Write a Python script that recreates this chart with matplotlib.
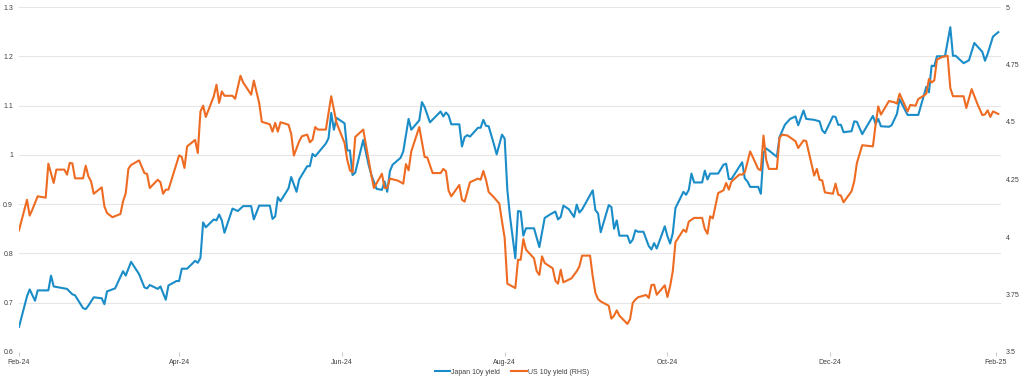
import matplotlib
matplotlib.use("Agg")
import matplotlib.pyplot as plt
import matplotlib.dates as mdates
import pandas as pd

plt.rcParams['font.family'] = ['Liberation Sans', 'DejaVu Sans']

# Japan 10y yield (left axis)
jp_dates = [
    "2024-02-01", "2024-02-04", "2024-02-05", "2024-02-07", "2024-02-08", "2024-02-12", "2024-02-13", "2024-02-14",
    "2024-02-19", "2024-02-21", "2024-02-22", "2024-02-25", "2024-02-26", "2024-02-27", "2024-02-29",
    "2024-03-03", "2024-03-04", "2024-03-05", "2024-03-08", "2024-03-11", "2024-03-12", "2024-03-14", "2024-03-17",
    "2024-03-19", "2024-03-20", "2024-03-21", "2024-03-24", "2024-03-25", "2024-03-27", "2024-03-28", "2024-03-31",
    "2024-04-01", "2024-04-02", "2024-04-04", "2024-04-07", "2024-04-08", "2024-04-09", "2024-04-10", "2024-04-11",
    "2024-04-14", "2024-04-15", "2024-04-16", "2024-04-17", "2024-04-18", "2024-04-21", "2024-04-23", "2024-04-25",
    "2024-04-28", "2024-04-29",
    "2024-05-01", "2024-05-05", "2024-05-06", "2024-05-07", "2024-05-08", "2024-05-09", "2024-05-12", "2024-05-13",
    "2024-05-15", "2024-05-16", "2024-05-19", "2024-05-20", "2024-05-21", "2024-05-22", "2024-05-26", "2024-05-27",
    "2024-05-28", "2024-05-29", "2024-05-30",
    "2024-06-02", "2024-06-03", "2024-06-04", "2024-06-05", "2024-06-06", "2024-06-09", "2024-06-11", "2024-06-12",
    "2024-06-14", "2024-06-16", "2024-06-17", "2024-06-18", "2024-06-19", "2024-06-20", "2024-06-23", "2024-06-24",
    "2024-06-26", "2024-06-27", "2024-06-30",
    "2024-07-01", "2024-07-02", "2024-07-04", "2024-07-08", "2024-07-09", "2024-07-10", "2024-07-11", "2024-07-12",
    "2024-07-15", "2024-07-16", "2024-07-17", "2024-07-18", "2024-07-19", "2024-07-22", "2024-07-23", "2024-07-24",
    "2024-07-25", "2024-07-26", "2024-07-28", "2024-07-29", "2024-07-31",
    "2024-08-01", "2024-08-02", "2024-08-03", "2024-08-05", "2024-08-06", "2024-08-07", "2024-08-08", "2024-08-09",
    "2024-08-12", "2024-08-14", "2024-08-16", "2024-08-18", "2024-08-20", "2024-08-21", "2024-08-22", "2024-08-23",
    "2024-08-25", "2024-08-27", "2024-08-28", "2024-08-29", "2024-08-30",
    "2024-09-03", "2024-09-04", "2024-09-05", "2024-09-06", "2024-09-09", "2024-09-10", "2024-09-11", "2024-09-12",
    "2024-09-13", "2024-09-16", "2024-09-17", "2024-09-18", "2024-09-19", "2024-09-20", "2024-09-22", "2024-09-24",
    "2024-09-25", "2024-09-26", "2024-09-27", "2024-09-30",
    "2024-10-01", "2024-10-02", "2024-10-03", "2024-10-04", "2024-10-07", "2024-10-08", "2024-10-09", "2024-10-10",
    "2024-10-11", "2024-10-14", "2024-10-15", "2024-10-16", "2024-10-17", "2024-10-20", "2024-10-22", "2024-10-23",
    "2024-10-24", "2024-10-25", "2024-10-29", "2024-10-30", "2024-10-31",
    "2024-11-01", "2024-11-04", "2024-11-05", "2024-11-06", "2024-11-07", "2024-11-08", "2024-11-11", "2024-11-12",
    "2024-11-14", "2024-11-16", "2024-11-18", "2024-11-19", "2024-11-21", "2024-11-22", "2024-11-25", "2024-11-27",
    "2024-11-28", "2024-11-29",
    "2024-12-02", "2024-12-03", "2024-12-04", "2024-12-05", "2024-12-06", "2024-12-09", "2024-12-10", "2024-12-11",
    "2024-12-13", "2024-12-17", "2024-12-18", "2024-12-19", "2024-12-20", "2024-12-23", "2024-12-24", "2024-12-26",
    "2024-12-27", "2024-12-28", "2024-12-30",
    "2025-01-03", "2025-01-05", "2025-01-06", "2025-01-07", "2025-01-08", "2025-01-09", "2025-01-10", "2025-01-13",
    "2025-01-15", "2025-01-16", "2025-01-17", "2025-01-20", "2025-01-22", "2025-01-24", "2025-01-27", "2025-01-28",
    "2025-01-29", "2025-01-31",
    "2025-02-02",
]
jp_yield = [
    0.651, 0.713, 0.727, 0.704, 0.725, 0.725, 0.755, 0.733,
    0.728, 0.717, 0.715, 0.689, 0.687, 0.694, 0.711,
    0.709, 0.697, 0.723, 0.729, 0.764, 0.755, 0.783, 0.758,
    0.731, 0.729, 0.736, 0.728, 0.733, 0.706, 0.735, 0.744,
    0.744, 0.769, 0.769, 0.785, 0.781, 0.791, 0.863, 0.853,
    0.869, 0.867, 0.879, 0.867, 0.842, 0.891, 0.886, 0.896,
    0.896, 0.869,
    0.897, 0.897, 0.870, 0.875, 0.914, 0.906, 0.932, 0.955,
    0.925, 0.950, 0.977, 0.977, 1.002, 0.997, 1.023, 1.034,
    1.085, 1.051, 1.075,
    1.064, 1.009, 1.009, 0.959, 0.964, 1.030, 0.980, 0.960,
    0.931, 0.929, 0.946, 0.925, 0.967, 0.980, 0.994, 1.007,
    1.073, 1.051, 1.070,
    1.107, 1.097, 1.066, 1.088, 1.078, 1.086, 1.080, 1.062,
    1.062, 1.017, 1.036, 1.040, 1.037, 1.055, 1.055, 1.071,
    1.059, 1.058, 1.021, 1.001, 1.041,
    1.033, 0.929, 0.875, 0.790, 0.886, 0.885, 0.836, 0.851,
    0.851, 0.813, 0.872, 0.879, 0.885, 0.869, 0.874, 0.897,
    0.890, 0.874, 0.899, 0.883, 0.889,
    0.928, 0.888, 0.881, 0.843, 0.898, 0.894, 0.850, 0.867,
    0.836, 0.836, 0.821, 0.828, 0.847, 0.844, 0.844, 0.815,
    0.808, 0.821, 0.810, 0.855,
    0.835, 0.820, 0.841, 0.892, 0.925, 0.919, 0.929, 0.962,
    0.944, 0.944, 0.968, 0.950, 0.962, 0.962, 0.980, 0.982,
    0.951, 0.951, 0.985, 0.952, 0.946,
    0.935, 0.935, 0.921, 1.004, 1.013, 1.009, 0.996, 1.036,
    1.061, 1.073, 1.078, 1.060, 1.090, 1.073, 1.071, 1.068,
    1.050, 1.044,
    1.078, 1.077, 1.061, 1.061, 1.046, 1.048, 1.068, 1.067,
    1.042, 1.079, 1.063, 1.073, 1.058, 1.057, 1.060, 1.083,
    1.113, 1.102, 1.081,
    1.081, 1.119, 1.138, 1.127, 1.181, 1.180, 1.200, 1.200,
    1.259, 1.201, 1.201, 1.186, 1.192, 1.227, 1.209, 1.191,
    1.205, 1.240,
    1.249,
]

# US 10y yield (right axis)
us_dates = [
    "2024-02-01", "2024-02-04", "2024-02-05", "2024-02-06", "2024-02-08", "2024-02-11", "2024-02-12", "2024-02-14",
    "2024-02-15", "2024-02-18", "2024-02-19", "2024-02-20", "2024-02-21", "2024-02-22", "2024-02-25", "2024-02-26",
    "2024-02-27", "2024-02-28", "2024-02-29",
    "2024-03-03", "2024-03-04", "2024-03-05", "2024-03-07", "2024-03-10", "2024-03-11", "2024-03-12", "2024-03-13",
    "2024-03-14", "2024-03-17", "2024-03-19", "2024-03-20", "2024-03-21", "2024-03-24", "2024-03-25", "2024-03-26",
    "2024-03-27", "2024-03-28",
    "2024-04-01", "2024-04-02", "2024-04-03", "2024-04-04", "2024-04-07", "2024-04-08", "2024-04-09", "2024-04-10",
    "2024-04-11", "2024-04-14", "2024-04-15", "2024-04-16", "2024-04-17", "2024-04-18", "2024-04-21", "2024-04-22",
    "2024-04-24", "2024-04-25", "2024-04-28", "2024-04-29",
    "2024-05-01", "2024-05-02", "2024-05-05", "2024-05-06", "2024-05-07", "2024-05-08", "2024-05-09", "2024-05-12",
    "2024-05-13", "2024-05-14", "2024-05-16", "2024-05-17", "2024-05-19", "2024-05-20", "2024-05-21", "2024-05-22",
    "2024-05-23", "2024-05-26", "2024-05-28", "2024-05-30",
    "2024-06-02", "2024-06-03", "2024-06-04", "2024-06-05", "2024-06-06", "2024-06-09", "2024-06-11", "2024-06-12",
    "2024-06-13", "2024-06-16", "2024-06-17", "2024-06-18", "2024-06-19", "2024-06-22", "2024-06-24", "2024-06-25",
    "2024-06-26", "2024-06-27", "2024-06-30",
    "2024-07-02", "2024-07-03", "2024-07-05", "2024-07-08", "2024-07-09", "2024-07-10", "2024-07-11", "2024-07-12",
    "2024-07-15", "2024-07-16", "2024-07-17", "2024-07-19", "2024-07-22", "2024-07-23", "2024-07-24", "2024-07-25",
    "2024-07-26", "2024-07-28", "2024-07-30", "2024-07-31",
    "2024-08-01", "2024-08-02", "2024-08-05", "2024-08-06", "2024-08-07", "2024-08-08", "2024-08-09", "2024-08-12",
    "2024-08-13", "2024-08-14", "2024-08-15", "2024-08-16", "2024-08-19", "2024-08-20", "2024-08-21", "2024-08-22",
    "2024-08-23", "2024-08-26", "2024-08-28", "2024-08-29", "2024-08-30",
    "2024-09-02", "2024-09-03", "2024-09-04", "2024-09-05", "2024-09-06", "2024-09-09", "2024-09-10", "2024-09-11",
    "2024-09-12", "2024-09-13", "2024-09-16", "2024-09-17", "2024-09-18", "2024-09-19", "2024-09-20", "2024-09-23",
    "2024-09-24", "2024-09-25", "2024-09-26", "2024-09-27", "2024-09-30",
    "2024-10-01", "2024-10-02", "2024-10-03", "2024-10-04", "2024-10-07", "2024-10-08", "2024-10-09", "2024-10-10",
    "2024-10-11", "2024-10-14", "2024-10-15", "2024-10-16", "2024-10-17", "2024-10-18", "2024-10-20", "2024-10-22",
    "2024-10-23", "2024-10-24", "2024-10-25", "2024-10-28", "2024-10-29", "2024-10-30",
    "2024-11-01", "2024-11-04", "2024-11-05", "2024-11-06", "2024-11-07", "2024-11-08", "2024-11-11", "2024-11-12",
    "2024-11-13", "2024-11-15", "2024-11-18", "2024-11-19", "2024-11-21", "2024-11-22", "2024-11-25", "2024-11-26",
    "2024-11-27", "2024-11-28", "2024-11-29",
    "2024-12-02", "2024-12-03", "2024-12-04", "2024-12-05", "2024-12-06", "2024-12-09", "2024-12-10", "2024-12-11",
    "2024-12-13", "2024-12-17", "2024-12-18", "2024-12-19", "2024-12-20", "2024-12-23", "2024-12-25", "2024-12-26",
    "2024-12-27", "2024-12-30", "2024-12-31",
    "2025-01-02", "2025-01-03", "2025-01-05", "2025-01-06", "2025-01-07", "2025-01-08", "2025-01-09", "2025-01-10",
    "2025-01-12", "2025-01-14", "2025-01-15", "2025-01-16", "2025-01-20", "2025-01-21", "2025-01-23", "2025-01-25",
    "2025-01-27", "2025-01-28", "2025-01-29", "2025-01-30", "2025-01-31",
    "2025-02-02",
]
us_yield = [
    4.029, 4.162, 4.093, 4.119, 4.177, 4.171, 4.319, 4.235,
    4.293, 4.293, 4.271, 4.322, 4.320, 4.255, 4.255, 4.310,
    4.264, 4.242, 4.188,
    4.216, 4.133, 4.104, 4.086, 4.100, 4.155, 4.191, 4.297,
    4.313, 4.333, 4.278, 4.274, 4.213, 4.249, 4.238, 4.188,
    4.206, 4.206,
    4.355, 4.348, 4.300, 4.394, 4.422, 4.365, 4.546, 4.571,
    4.522, 4.612, 4.662, 4.583, 4.633, 4.614, 4.614, 4.601,
    4.701, 4.672, 4.619, 4.680,
    4.583, 4.501, 4.490, 4.458, 4.496, 4.458, 4.499, 4.488,
    4.449, 4.354, 4.416, 4.438, 4.445, 4.412, 4.423, 4.478,
    4.467, 4.467, 4.612, 4.496,
    4.409, 4.336, 4.290, 4.281, 4.435, 4.467, 4.336, 4.271,
    4.213, 4.275, 4.213, 4.213, 4.254, 4.245, 4.232, 4.317,
    4.290, 4.372, 4.478,
    4.348, 4.346, 4.278, 4.278, 4.296, 4.286, 4.201, 4.177,
    4.226, 4.162, 4.154, 4.238, 4.254, 4.249, 4.287, 4.249,
    4.196, 4.172, 4.145, 4.068,
    3.996, 3.797, 3.778, 3.901, 3.901, 3.991, 3.945, 3.907,
    3.852, 3.835, 3.916, 3.887, 3.864, 3.810, 3.797, 3.858,
    3.803, 3.820, 3.851, 3.872, 3.919,
    3.919, 3.829, 3.757, 3.730, 3.720, 3.701, 3.645, 3.658,
    3.681, 3.658, 3.622, 3.643, 3.713, 3.728, 3.738, 3.748,
    3.735, 3.791, 3.793, 3.749, 3.790,
    3.739, 3.786, 3.851, 3.977, 4.032, 4.022, 4.067, 4.075,
    4.083, 4.083, 4.035, 4.014, 4.090, 4.081, 4.191, 4.203,
    4.235, 4.206, 4.241, 4.272, 4.271, 4.281,
    4.372, 4.296, 4.290, 4.441, 4.336, 4.296, 4.296, 4.432,
    4.445, 4.441, 4.416, 4.387, 4.420, 4.417, 4.267, 4.296,
    4.249, 4.246, 4.194,
    4.188, 4.232, 4.184, 4.180, 4.151, 4.199, 4.242, 4.322,
    4.399, 4.394, 4.488, 4.568, 4.532, 4.591, 4.586, 4.580,
    4.623, 4.546, 4.574,
    4.571, 4.600, 4.614, 4.623, 4.687, 4.672, 4.681, 4.771,
    4.783, 4.788, 4.648, 4.612, 4.612, 4.561, 4.643, 4.583,
    4.530, 4.533, 4.551, 4.522, 4.546,
    4.535,
]

left_ticks = [0.6, 0.7, 0.8, 0.9, 1.0, 1.1, 1.2, 1.3]
right_ticks = [3.5, 3.75, 4.0, 4.25, 4.5, 4.75, 5.0]
month_ticks = ["2024-02-01", "2024-04-01", "2024-06-01", "2024-08-01",
               "2024-10-01", "2024-12-01", "2025-02-01"]

blue = "#1a8dc8"
orange = "#ee6b22"
text_col = "#404040"
grid_col = "#e6e6e6"
fsize = 5

fig = plt.figure(figsize=(10.24, 3.83), dpi=100)
ax = fig.add_axes([19 / 1024, 1 - 352 / 383, 982 / 1024, 345 / 383])
ax2 = ax.twinx()

l1, = ax.plot(pd.to_datetime(jp_dates), jp_yield, color=blue, lw=1.5, label="Japan 10y yield")
l2, = ax2.plot(pd.to_datetime(us_dates), us_yield, color=orange, lw=1.5, label="US 10y yield (RHS)")

ax.set_xlim(pd.Timestamp("2024-02-01"), pd.Timestamp("2025-02-03"))
ax.set_ylim(0.6, 1.3)
ax2.set_ylim(3.5, 5.0)

ax.set_yticks(left_ticks)
ax.set_yticklabels(["{:g}".format(v) for v in left_ticks])
ax2.set_yticks(right_ticks)
ax2.set_yticklabels(["{:g}".format(v) for v in right_ticks])

ax.set_xticks(pd.to_datetime(month_ticks))
ax.xaxis.set_major_formatter(mdates.DateFormatter("%b-%y"))

ax.yaxis.grid(True, color=grid_col, lw=0.8)
ax.set_axisbelow(True)

for a in (ax, ax2):
    for s in a.spines.values():
        s.set_visible(False)

ax.tick_params(axis="y", length=0, pad=4.3, labelsize=fsize, labelcolor=text_col)
ax2.tick_params(axis="y", length=0, pad=3.6, labelsize=fsize, labelcolor=text_col)
ax.tick_params(axis="x", length=3, width=0.8, color="#cccccc", pad=2, labelsize=fsize, labelcolor=text_col)

fig.legend(handles=[l1, l2], loc="center", bbox_to_anchor=(0.5, 1 - 372 / 383), ncol=2,
           frameon=False, fontsize=fsize, handlelength=2.2, handletextpad=0.2, columnspacing=1.6,
           labelcolor=text_col)

fig.savefig("out.png", dpi=100)
